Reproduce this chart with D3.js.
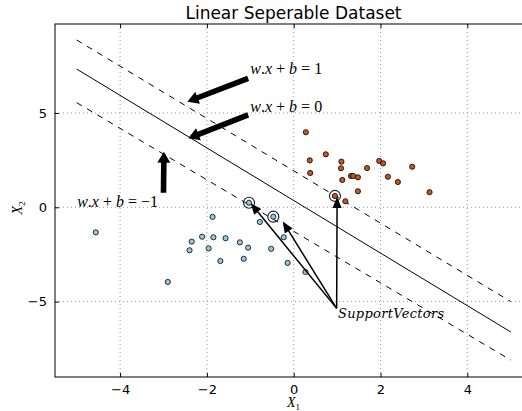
<!DOCTYPE html>
<html>
<head>
<meta charset="utf-8">
<script src="https://cdn.jsdelivr.net/npm/d3@7/dist/d3.min.js"></script>
<style>
  body { margin: 0; background: #fff; }
  svg { display: block; }
  .tick text { font-family: "DejaVu Sans", sans-serif; font-size: 13px; fill: #000; }
  .math { font-family: "Liberation Serif", "DejaVu Serif", serif; fill: #000; }
</style>
</head>
<body>
<div id="vis"></div>
<script>
// DATA
var xTicks = [-4, -2, 0, 2, 4],
	yTicks = [-5, 0, 5];

// class 0 (light blue)
var blueX = [-1.03, -1.87, -4.56, -0.47, -0.78, -0.23, -2.11, -1.85, -1.57, -2.35,
	-1.24, -1.05, -1.96, -2.40, -0.52, -1.69, -1.15, -0.14, 0.27, -2.90];
var blueY = [0.24, -0.51, -1.33, -0.50, -0.78, -1.59, -1.56, -1.59, -1.64, -1.82,
	-1.86, -2.14, -2.18, -2.28, -2.20, -2.85, -2.73, -2.95, -3.43, -3.96];

// class 1 (orange)
var orangeX = [0.28, 0.74, 0.37, 1.10, 1.09, 0.38, 1.97, 2.06, 2.73, 1.69,
	1.32, 1.37, 1.48, 1.12, 2.17, 2.40, 1.48, 3.13, 0.95, 1.19];
var orangeY = [3.98, 2.81, 2.49, 2.42, 2.07, 1.82, 2.46, 2.33, 2.15, 2.08,
	1.66, 1.66, 1.59, 1.45, 1.62, 1.34, 0.85, 0.80, 0.60, 0.32];

// support vectors
var svX = [-1.03, -0.47, 0.95],
	svY = [0.24, -0.50, 0.60];

// hyperplane and margins, endpoints at x = -5 and x = 5
var lineX = [-5, 5],
	hyperY = [7.33, -6.61],
	marginUpY = [8.87, -5.00],
	marginDownY = [5.55, -8.10];

// fat annotation arrows: tail -> tip, plus labels
var fatArrows = [
	{tail: [-1.05, 6.84], tip: [-2.45, 5.60]},
	{tail: [-1.05, 4.90], tip: [-2.43, 3.66]},
	{tail: [-3.00, 0.77], tip: [-2.99, 2.95]}
];
var eqLabels = [
	{x: -1.0, y: 7.07, rhs: "1"},
	{x: -1.0, y: 5.07, rhs: "0"},
	{x: -4.99, y: 0.03, rhs: "\u22121"}
];

// support vector arrows
var svTail = [0.99, -5.36],
	svTipX = [-0.99, -0.25, 1.00],
	svTipY = [0.21, -0.76, 0.55];
var svLabel = {x: 1.02, y: -5.89, text: "SupportVectors"};

window.onload = function () {

	var W = 522, H = 411,
		margin = {top: 24, left: 55, bottom: 34},
		pw = 477.4,
		ph = H - margin.top - margin.bottom;

	var svg = d3.select('#vis')
		.append('svg')
			.attr('width', W)
			.attr('height', H);

	var x = d3.scaleLinear().domain([-5.5, 5.5]).range([margin.left, margin.left + pw]);
	var y = d3.scaleLinear().domain([-9, 9.72]).range([margin.top + ph, margin.top]);

	// title
	svg.append('text')
		.attr('x', 293.5)
		.attr('y', 19)
		.attr('text-anchor', 'middle')
		.style('font-family', '"DejaVu Sans", sans-serif')
		.style('font-size', '17px')
		.text('Linear Seperable Dataset');

	// grid
	var grid = svg.append('g');
	grid.selectAll('.gx').data(xTicks).enter().append('line')
		.attr('x1', function (d) { return x(d); })
		.attr('x2', function (d) { return x(d); })
		.attr('y1', y.range()[0]).attr('y2', y.range()[1])
		.attr('stroke', '#999').attr('stroke-width', 1)
		.attr('stroke-dasharray', '1,3');
	grid.selectAll('.gy').data(yTicks).enter().append('line')
		.attr('y1', function (d) { return y(d); })
		.attr('y2', function (d) { return y(d); })
		.attr('x1', x.range()[0]).attr('x2', x.range()[1])
		.attr('stroke', '#999').attr('stroke-width', 1)
		.attr('stroke-dasharray', '1,3');

	// axes (ticks inward, classic style)
	var fmt = function (d) { return d3.format('')(d).replace('-', '\u2212'); };

	svg.append('g')
		.attr('transform', 'translate(0,' + y.range()[0] + ')')
		.call(d3.axisBottom(x).tickValues(xTicks).tickSizeInner(-4).tickSizeOuter(0).tickPadding(8).tickFormat(fmt))
		.call(function (g) { g.select('.domain').remove(); });

	svg.append('g')
		.attr('transform', 'translate(0,' + y.range()[1] + ')')
		.call(d3.axisTop(x).tickValues(xTicks).tickSizeInner(-4).tickSizeOuter(0).tickFormat(''))
		.call(function (g) { g.select('.domain').remove(); });

	svg.append('g')
		.attr('transform', 'translate(' + x.range()[0] + ',0)')
		.call(d3.axisLeft(y).tickValues(yTicks).tickSizeInner(-4).tickSizeOuter(0).tickPadding(8).tickFormat(fmt))
		.call(function (g) { g.select('.domain').remove(); });

	// frame
	svg.append('rect')
		.attr('x', x.range()[0])
		.attr('y', y.range()[1])
		.attr('width', pw)
		.attr('height', ph)
		.attr('fill', 'none')
		.attr('stroke', '#000')
		.attr('stroke-width', 1);

	// hyperplane + margins
	var line = d3.line()
		.x(function (d) { return x(d[0]); })
		.y(function (d) { return y(d[1]); });

	svg.append('path')
		.attr('d', line(d3.zip(lineX, hyperY)))
		.attr('fill', 'none').attr('stroke', '#000').attr('stroke-width', 1);
	[marginUpY, marginDownY].forEach(function (ys) {
		svg.append('path')
			.attr('d', line(d3.zip(lineX, ys)))
			.attr('fill', 'none').attr('stroke', '#000').attr('stroke-width', 1)
			.attr('stroke-dasharray', '6,6');
	});

	// support vector rings
	svg.selectAll('.sv').data(d3.zip(svX, svY)).enter().append('circle')
		.attr('cx', function (d) { return x(d[0]); })
		.attr('cy', function (d) { return y(d[1]); })
		.attr('r', 5.5)
		.attr('fill', 'none')
		.attr('stroke', '#222')
		.attr('stroke-width', 1.2);

	// points
	function dots(xs, ys, col) {
		svg.append('g').selectAll('circle').data(d3.zip(xs, ys)).enter().append('circle')
			.attr('cx', function (d) { return x(d[0]); })
			.attr('cy', function (d) { return y(d[1]); })
			.attr('r', 2.6)
			.attr('fill', col)
			.attr('stroke', '#000')
			.attr('stroke-width', 0.8);
	}
	dots(blueX, blueY, '#93c8e2');
	dots(orangeX, orangeY, '#c2571f');

	// fat arrows
	function fatArrow(t, p) {
		var tx = x(t[0]), ty = y(t[1]), px = x(p[0]), py = y(p[1]);
		var len = Math.hypot(px - tx, py - ty),
			ux = (px - tx) / len, uy = (py - ty) / len,
			nx = -uy, ny = ux,
			w = 2.8, hw = 6.5, hl = 11,
			bx = px - ux * hl, by = py - uy * hl;
		var pts = [
			[tx + nx * w, ty + ny * w], [bx + nx * w, by + ny * w], [bx + nx * hw, by + ny * hw],
			[px, py],
			[bx - nx * hw, by - ny * hw], [bx - nx * w, by - ny * w], [tx - nx * w, ty - ny * w]
		];
		svg.append('polygon')
			.attr('points', pts.map(function (q) { return q.join(','); }).join(' '))
			.attr('fill', '#000');
	}
	fatArrows.forEach(function (a) { fatArrow(a.tail, a.tip); });

	// equation labels
	eqLabels.forEach(function (l) {
		var t = svg.append('text')
			.attr('class', 'math')
			.attr('x', x(l.x))
			.attr('y', y(l.y))
			.style('font-size', '16px');
		t.append('tspan').style('font-style', 'italic').text('w');
		t.append('tspan').text('.');
		t.append('tspan').style('font-style', 'italic').text('x');
		t.append('tspan').text(' + ');
		t.append('tspan').style('font-style', 'italic').text('b');
		t.append('tspan').text(' = ' + l.rhs);
	});

	// thin arrows to support vectors
	d3.zip(svTipX, svTipY).forEach(function (p) {
		var tx = x(svTail[0]), ty = y(svTail[1]), px = x(p[0]), py = y(p[1]);
		var len = Math.hypot(px - tx, py - ty),
			ux = (px - tx) / len, uy = (py - ty) / len,
			nx = -uy, ny = ux,
			hw = 4.6, hl = 11,
			bx = px - ux * hl, by = py - uy * hl;
		svg.append('line')
			.attr('x1', tx).attr('y1', ty).attr('x2', bx).attr('y2', by)
			.attr('stroke', '#000').attr('stroke-width', 1.5);
		svg.append('polygon')
			.attr('points', [[px, py], [bx + nx * hw, by + ny * hw], [bx - nx * hw, by - ny * hw]]
				.map(function (q) { return q.join(','); }).join(' '))
			.attr('fill', '#000');
	});

	svg.append('text')
		.attr('class', 'math')
		.attr('x', x(svLabel.x))
		.attr('y', y(svLabel.y))
		.style('font-family', '"DejaVu Serif", serif')
		.style('font-size', '13px')
		.style('font-style', 'italic')
		.style('letter-spacing', '0.3px')
		.text(svLabel.text);

	// axis labels
	var xl = svg.append('text')
		.attr('class', 'math')
		.attr('x', 293.5)
		.attr('y', 407)
		.attr('text-anchor', 'middle')
		.style('font-size', '14px');
	xl.append('tspan').style('font-style', 'italic').text('X');
	xl.append('tspan').attr('dy', 3).style('font-size', '9px').text('1');

	var yl = svg.append('text')
		.attr('class', 'math')
		.attr('transform', 'translate(22,208) rotate(-90)')
		.attr('text-anchor', 'middle')
		.style('font-size', '14px');
	yl.append('tspan').style('font-style', 'italic').text('X');
	yl.append('tspan').attr('dy', 3).style('font-size', '9px').text('2');
};
</script>
</body>
</html>
